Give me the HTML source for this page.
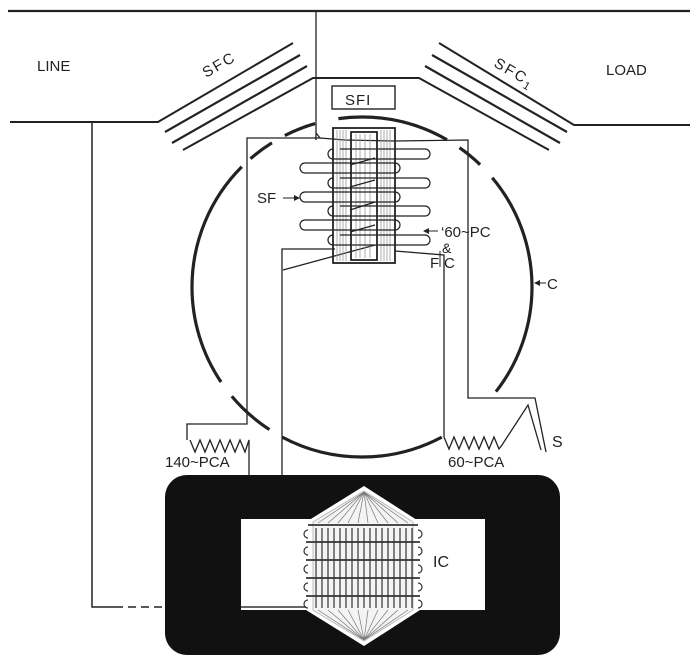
<!DOCTYPE html>
<html><head><meta charset="utf-8"><style>
html,body{margin:0;padding:0;background:#fff;}
svg{display:block;}
text{font-family:"Liberation Sans",sans-serif;fill:#222;}
</style></head><body>
<svg width="700" height="659" viewBox="0 0 700 659" xmlns="http://www.w3.org/2000/svg">
<g fill="none" stroke="#222" stroke-width="1.6" stroke-linejoin="miter">
<!-- main lines -->
<path d="M8 11 H690" stroke-width="2.2"/>
<path d="M316 11 V140" stroke-width="1.3"/>
<path d="M10 122 H158 L293 43" stroke-width="2"/>
<path d="M183 150 L313 78 H419 L549 150" stroke-width="2"/>
<path d="M690 125 H574 L439 43" stroke-width="2"/>
<path d="M92 122 V607 H123" stroke-width="1.5"/>
<path d="M128 607 H165" stroke-width="1.5" stroke-dasharray="8,5"/>
<!-- SFC plates -->
<g stroke-width="2.2">
<path d="M165 132 L300 55"/>
<path d="M172 143 L307 66"/>
<path d="M567 132 L432 55"/>
<path d="M560 143 L425 66"/>
</g>
<!-- SFI box -->
<rect x="332" y="86" width="63" height="23" stroke-width="1.4"/>
<!-- circle C -->
<circle cx="362" cy="287" r="170" stroke-width="3.2" pathLength="360" stroke-dasharray="38 24 56 5 17 6 79 4 9 5 11 8 38 5 9 6 40 0"/>
<!-- wire rectangle -->
<path d="M316 133 L320 138 H247 V424 H187 V440" stroke-width="1.3"/>
<path d="M320 138 L345 140 L395 141 L468 140 V398 H535 L546 452" stroke-width="1.3"/>
<path d="M190 440 l5 12 l5 -12 l5 12 l5 -12 l5 12 l5 -12 l5 12 l5 -12 l5 12 l5 -12 l5 12 l4 -12 V553 H305" stroke-width="1.3"/>
<path d="M335 249 H282 V527 H310" stroke-width="1.3"/>
<path d="M283 270 L375 245" stroke-width="1.3"/>
<path d="M395 251 L444 255 V437 l5 12 l5 -12 l5 12 l5 -12 l5 12 l5 -12 l5 12 l5 -12 l5 12 l5 -12 l5 12 l3 -4 L528 405 L541 450" stroke-width="1.3"/>
<!-- core -->
<rect x="333" y="128" width="62" height="135" stroke-width="1.8"/>
<rect x="351" y="132" width="26" height="128" stroke-width="1.8"/>
<g stroke="#999" stroke-width="0.8">
<path d="M337 130V261M340 130V261M343 130V261M346 130V261M381 130V261M384 130V261M387 130V261M390 130V261M356 134V258M360 134V258M365 134V258M370 134V258"/>
</g>
<!-- SF loops -->
<g stroke-width="1.2">
<path d="M340 149 H425 a5 5 0 0 1 0 10 H333 a5 5 0 0 1 0 -10"/>
<path d="M395 163 H305 a5 5 0 0 0 0 10 H395 a5 5 0 0 0 0 -10"/>
<path d="M340 178 H425 a5 5 0 0 1 0 10 H333 a5 5 0 0 1 0 -10"/>
<path d="M395 192 H305 a5 5 0 0 0 0 10 H395 a5 5 0 0 0 0 -10"/>
<path d="M340 206 H425 a5 5 0 0 1 0 10 H333 a5 5 0 0 1 0 -10"/>
<path d="M395 220 H305 a5 5 0 0 0 0 10 H395 a5 5 0 0 0 0 -10"/>
<path d="M340 235 H425 a5 5 0 0 1 0 10 H333 a5 5 0 0 1 0 -10"/>
<path d="M350 165 L375 158 M350 187 L375 180 M350 210 L375 202 M350 232 L375 225"/>
</g>
<!-- arrows -->
<path d="M283 198 H298" stroke-width="1"/>
<path d="M424 231 H438" stroke-width="1"/>
<path d="M536 283 H546" stroke-width="1"/>
<path d="M440 251 V267" stroke-width="1"/>
</g>
<path d="M300 198 l-6 -3 v6z M423 231 l6 -3 v6z M534 283 l6 -3 v6z" fill="#222"/>
<!-- black frame -->
<rect x="165" y="475" width="395" height="180" rx="22" fill="#111"/>
<rect x="241" y="519" width="244" height="91" fill="#fff"/>
<polygon points="364,486 420,522 420,610 364,646 306,610 306,522" fill="#fff"/>
<polygon points="364,491 413,522 413,610 364,641 313,610 313,522" fill="#f4f4f4" stroke="#bbb" stroke-width="1"/>
<g stroke="#777" stroke-width="0.7" fill="none">
<path d="M364 492 L318 523 M364 492 L328 523 M364 492 L338 523 M364 492 L348 523 M364 492 L358 523 M364 492 L368 523 M364 492 L378 523 M364 492 L388 523 M364 492 L398 523 M364 492 L408 523"/>
<path d="M364 640 L318 610 M364 640 L328 610 M364 640 L338 610 M364 640 L348 610 M364 640 L358 610 M364 640 L368 610 M364 640 L378 610 M364 640 L388 610 M364 640 L398 610 M364 640 L408 610"/>
</g>
<g stroke="#333" stroke-width="1.2" fill="none">
<path d="M316 528V608M322 528V608M328 528V608M334 528V608M340 528V608M346 528V608M352 528V608M358 528V608M364 528V608M370 528V608M376 528V608M382 528V608M388 528V608M394 528V608M400 528V608M406 528V608M412 528V608"/>
<path d="M308 525H418 M306 542H420 M306 560H420 M306 578H420 M306 596H420" stroke-width="1.8"/>
<path d="M308 530 a4 4 0 0 0 0 8 M308 547 a4 4 0 0 0 0 8 M308 565 a4 4 0 0 0 0 8 M308 583 a4 4 0 0 0 0 8 M308 600 a4 4 0 0 0 0 8"/>
<path d="M418 530 a4 4 0 0 1 0 8 M418 547 a4 4 0 0 1 0 8 M418 565 a4 4 0 0 1 0 8 M418 583 a4 4 0 0 1 0 8 M418 600 a4 4 0 0 1 0 8"/>
<path d="M241 607 H306" stroke-width="1.4"/>
</g>
<!-- labels -->
<text x="37" y="71" font-size="15">LINE</text>
<text x="606" y="75" font-size="15">LOAD</text>
<text x="0" y="0" font-size="15" transform="translate(206,78) rotate(-30)" letter-spacing="2">SFC</text>
<text x="0" y="0" font-size="15" transform="translate(493,66) rotate(30)" letter-spacing="2">SFC<tspan font-size="11" dy="4">1</tspan></text>
<text x="345" y="105" font-size="15" letter-spacing="1">SFI</text>
<text x="257" y="203" font-size="15">SF</text>
<text x="441" y="237" font-size="15">&#8216;60~PC</text>
<text x="442" y="253" font-size="14">&amp;</text>
<text x="430" y="268" font-size="15">F</text>
<text x="444" y="268" font-size="15">C</text>
<text x="547" y="289" font-size="15">C</text>
<text x="552" y="447" font-size="16">S</text>
<text x="165" y="467" font-size="15">140~PCA</text>
<text x="448" y="467" font-size="15">60~PCA</text>
<text x="433" y="567" font-size="16">IC</text>
</svg>
</body></html>
